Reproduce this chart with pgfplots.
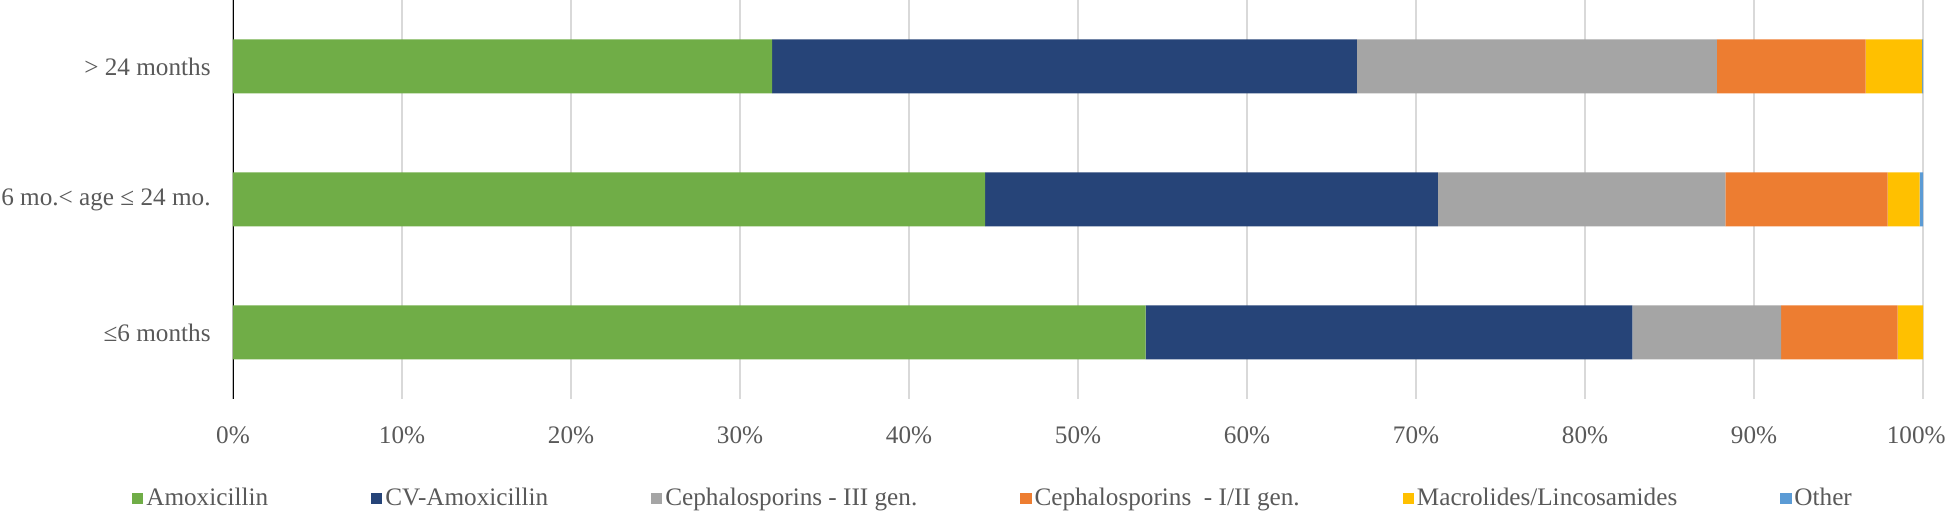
\documentclass[border=0pt]{standalone}
\usepackage{fontspec}
\setmainfont{Liberation Serif}
\usepackage{pgfplots}
\pgfplotsset{compat=1.18}
\usetikzlibrary{calc}

\definecolor{amox}{HTML}{70AD47}
\definecolor{cvamox}{HTML}{264478}
\definecolor{cephiii}{HTML}{A5A5A5}
\definecolor{cephi}{HTML}{ED7D31}
\definecolor{macro}{HTML}{FFC000}
\definecolor{other}{HTML}{5B9BD5}
\definecolor{txt}{HTML}{595959}
\definecolor{gridc}{HTML}{D9D9D9}

\begin{document}
\begin{tikzpicture}[font=\fontsize{12.6}{14}\selectfont]
\begin{axis}[
    scale only axis,
    width=845pt, height=199.5pt,
    xbar stacked, bar width=27pt,
    xmin=0, xmax=100, ymin=-0.5, ymax=2.5,
    xtick={0,10,...,90},
    xticklabels={0\%,10\%,20\%,30\%,40\%,50\%,60\%,70\%,80\%,90\%},
    extra x ticks={100},
    extra x tick labels={100\%},
    extra x tick style={grid=major, xticklabel style={anchor=north east, xshift=11.5pt}},
    ytick={0,1,2},
    yticklabels={{≤6 months},{6 mo.< age ≤ 24 mo.},{> 24 months}},
    major tick length=0pt,
    axis line style={draw=none},
    xmajorgrids, grid style={draw=gridc, line width=0.9pt},
    tick label style={text=txt},
    xticklabel style={inner sep=0pt, yshift=-13.5pt},
    yticklabel style={inner sep=0pt, xshift=-11pt},
    legend columns=6,
    legend style={at={(0.45,-0.25)}, anchor=center, draw=none, fill=none,
        text=txt, nodes={inner sep=1.5pt},
        /tikz/every even column/.append style={column sep=50pt}},
    legend image code/.code={\fill[#1] (0pt,-2.8pt) rectangle (5.6pt,2.8pt);},
]
\addplot[fill=amox, draw=none] coordinates {(54.0,0) (44.5,1) (31.9,2)};
\addplot[fill=cvamox, draw=none] coordinates {(28.8,0) (26.8,1) (34.6,2)};
\addplot[fill=cephiii, draw=none] coordinates {(8.8,0) (17.0,1) (21.3,2)};
\addplot[fill=cephi, draw=none] coordinates {(6.9,0) (9.6,1) (8.8,2)};
\addplot[fill=macro, draw=none] coordinates {(1.5,0) (1.9,1) (3.35,2)};
\addplot[fill=other, draw=none] coordinates {(0.0,0) (0.2,1) (0.05,2)};
\legend{Amoxicillin, CV-Amoxicillin, Cephalosporins - III gen., Cephalosporins\ \ - I/II gen., Macrolides/Lincosamides, Other}
\draw[black, line width=0.9pt] (axis cs:0,-0.5) -- (axis cs:0,2.5);
\end{axis}
\pgfresetboundingbox
\path ($(current axis.south west)+(-116.5pt,-57pt)$) rectangle ($(current axis.north east)+(11.5pt,0pt)$);
\end{tikzpicture}
\end{document}
